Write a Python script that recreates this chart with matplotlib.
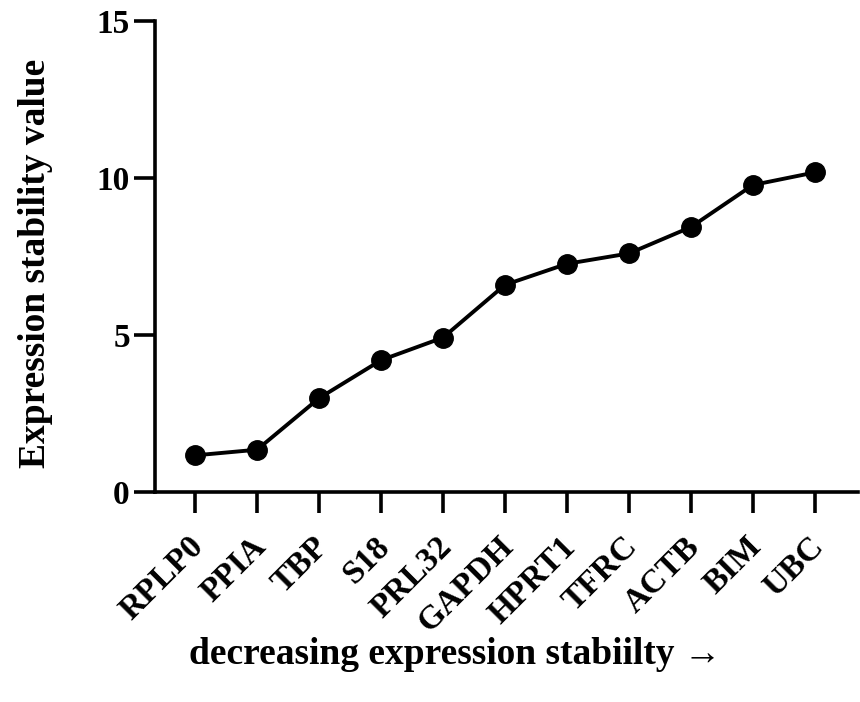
import matplotlib
matplotlib.use("Agg")
import matplotlib.pyplot as plt
from matplotlib.transforms import ScaledTranslation

# genes, ordered from most to least stable
genes = ["RPLP0", "PPIA", "TBP", "S18", "PRL32", "GAPDH",
         "HPRT1", "TFRC", "ACTB", "BIM", "UBC"]
stability = [1.17, 1.35, 2.99, 4.20, 4.92, 6.60, 7.27, 7.60, 8.44, 9.78, 10.18]
y_ticks = [0, 5, 10, 15]

plt.rcParams["font.family"] = ["Liberation Serif", "DejaVu Serif"]
plt.rcParams["font.weight"] = "bold"

fig = plt.figure(figsize=(8.6, 7.02), dpi=100)
ax = fig.add_axes([0.18, 0.299, 0.818, 0.671])

x = list(range(len(genes)))
ax.plot(x, stability, color="black", lw=2.8, marker="o", ms=14, zorder=3)

ax.set_xlim(-0.65, 10.7)
ax.set_ylim(0, 15)
ax.set_yticks(y_ticks)
ax.set_xticks(x)
ax.set_xticklabels(genes, rotation=45, ha="right", va="top", rotation_mode="anchor")

for side in ["top", "right"]:
    ax.spines[side].set_visible(False)
for side in ["left", "bottom"]:
    ax.spines[side].set_linewidth(2.6)

ax.tick_params(axis="y", length=15, width=2.6, labelsize=24, pad=3)
ax.tick_params(axis="x", length=15, width=2.6, labelsize=24, pad=13)

# nudge the rotated labels a little to the left
shift = ScaledTranslation(-5 / 72, 0, fig.dpi_scale_trans)
for lbl in ax.get_xticklabels():
    lbl.set_transform(lbl.get_transform() + shift)

ax.set_ylabel("Expression stability value", fontsize=27, fontweight="bold", va="center")
ax.yaxis.set_label_coords(-0.17, 0.485)
ax.set_xlabel("decreasing expression stabiilty \u2192", fontsize=27, fontweight="bold", va="center")
ax.xaxis.set_label_coords(0.427, -0.344)

fig.savefig("out.png", dpi=100)
